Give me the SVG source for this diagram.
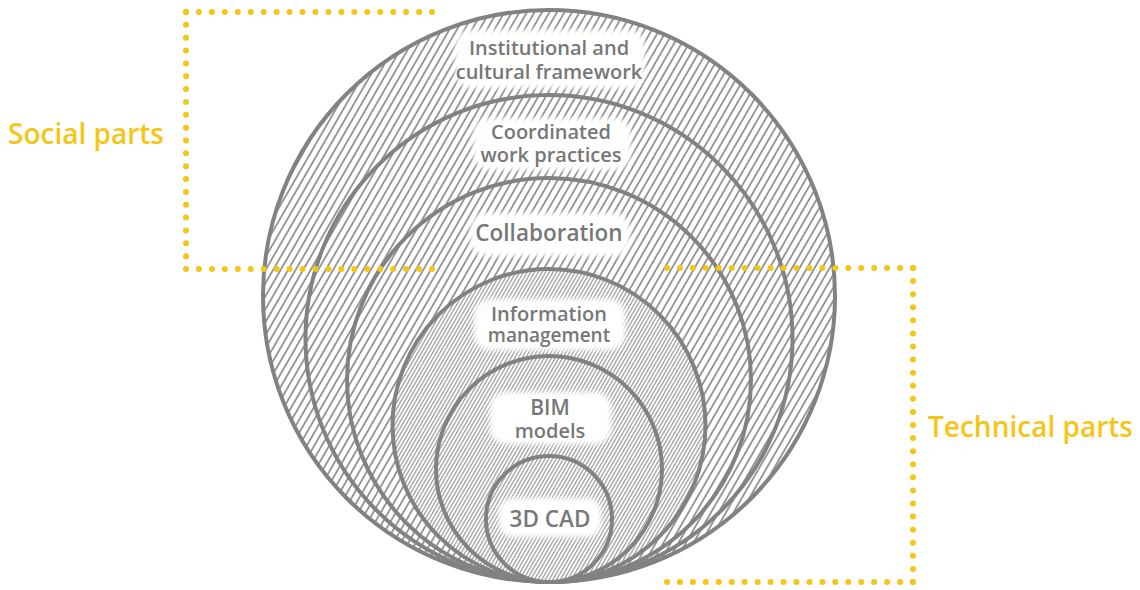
<svg xmlns="http://www.w3.org/2000/svg" width="1140" height="590" viewBox="0 0 1140 590">
  <style>
    .ring { stroke: #828282; stroke-width: 4; }
    .outer { fill: url(#hatchWide); }
    .inner { fill: url(#hatchDense); }
    .box { fill: #ffffff; filter: url(#soft); }
    .lbl { font-family: "Open Sans", "Liberation Sans", sans-serif; font-weight: 600; fill: #777777; text-anchor: middle; }
    .side { font-family: "Open Sans", "Liberation Sans", sans-serif; font-weight: 600; fill: #f5c518; font-size: 28px; }
    .dots { fill: none; stroke: #f5c518; stroke-width: 6; stroke-linecap: round; }
  </style>
  <defs>
    <pattern id="hatchWide" patternUnits="userSpaceOnUse" width="6.5" height="6.5" patternTransform="rotate(30)">
      <rect width="6.5" height="6.5" fill="#ffffff"/>
      <line x1="1" y1="0" x2="1" y2="6.5" stroke="#8c8c8c" stroke-width="1.7"/>
    </pattern>
    <pattern id="hatchDense" patternUnits="userSpaceOnUse" width="3.2" height="3.2" patternTransform="rotate(30)">
      <rect width="3.2" height="3.2" fill="#ffffff"/>
      <line x1="0.6" y1="0" x2="0.6" y2="3.2" stroke="#999999" stroke-width="1.2"/>
    </pattern>
    <filter id="soft" x="-20%" y="-30%" width="140%" height="160%">
      <feGaussianBlur stdDeviation="2.5"/>
    </filter>
  </defs>

  <g id="institutional">
    <circle class="ring outer" cx="549" cy="296" r="286"/>
    <rect class="box" x="455" y="30" width="190" height="58" rx="16"/>
    <text class="lbl" x="549" y="55" font-size="20">Institutional and</text>
    <text class="lbl" x="549" y="79" font-size="20">cultural framework</text>
  </g>
  <g id="coordinated">
    <circle class="ring outer" cx="549" cy="338.5" r="243.5"/>
    <rect class="box" x="473" y="118" width="158" height="52" rx="16"/>
    <text class="lbl" x="551" y="139" font-size="20">Coordinated</text>
    <text class="lbl" x="551" y="162" font-size="20">work practices</text>
  </g>
  <g id="collaboration">
    <circle class="ring outer" cx="549" cy="380" r="202"/>
    <rect class="box" x="470" y="213" width="160" height="43" rx="16"/>
    <text class="lbl" x="549" y="241" font-size="22.5">Collaboration</text>
  </g>
  <g id="information">
    <circle class="ring inner" cx="549" cy="425.5" r="156.5"/>
    <rect class="box" x="474" y="299" width="151" height="51" rx="16"/>
    <text class="lbl" x="549" y="321" font-size="20">Information</text>
    <text class="lbl" x="549" y="342" font-size="19">management</text>
  </g>
  <g id="bim">
    <circle class="ring inner" cx="549" cy="469" r="113"/>
    <rect class="box" x="490" y="392" width="121" height="52" rx="16"/>
    <text class="lbl" x="550" y="415" font-size="21">BIM</text>
    <text class="lbl" x="550" y="438" font-size="20">models</text>
  </g>
  <g id="cad3d">
    <circle class="ring inner" cx="549" cy="519" r="63"/>
    <rect class="box" x="499" y="498" width="102" height="39" rx="14"/>
    <text class="lbl" x="550" y="527" font-size="22.5">3D CAD</text>
  </g>

  <g id="connectors">
    <path class="dots" d="M186 12 H432" stroke-dasharray="0 12.947"/>
    <path class="dots" d="M186 12 V269" stroke-dasharray="0 12.85"/>
    <path class="dots" d="M186 269 H432" stroke-dasharray="0 12.947"/>
    <path class="dots" d="M913 268 H667" stroke-dasharray="0 12.947"/>
    <path class="dots" d="M913 268 V582" stroke-dasharray="0 13.083"/>
    <path class="dots" d="M913 582 H667" stroke-dasharray="0 12.947"/>
  </g>

  <g id="social">
    <text class="side" x="8" y="144">Social parts</text>
  </g>
  <g id="technical">
    <text class="side" x="928" y="437">Technical parts</text>
  </g>
</svg>
